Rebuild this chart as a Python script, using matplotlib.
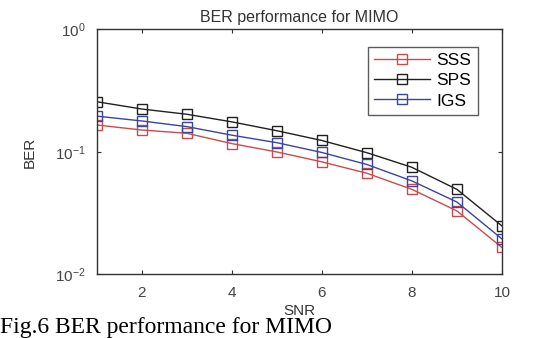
import matplotlib
matplotlib.use("Agg")
import matplotlib.pyplot as plt
from matplotlib.ticker import LogLocator, NullLocator

# values
snr = [1, 2, 3, 4, 5, 6, 7, 8, 9, 10]
ber_sss = [0.166, 0.151, 0.142, 0.117, 0.100, 0.083, 0.067, 0.0495, 0.033, 0.0166]
ber_sps = [0.257, 0.224, 0.203, 0.176, 0.149, 0.124, 0.0986, 0.0749, 0.0495, 0.0249]
ber_igs = [0.196, 0.179, 0.161, 0.137, 0.119, 0.099, 0.079, 0.058, 0.039, 0.0195]
x_ticks = [2, 4, 6, 8, 10]

plt.rcParams["font.family"] = ["Liberation Sans", "DejaVu Sans"]

fig = plt.figure(figsize=(5.45, 3.38), dpi=100)
ax = fig.add_axes([0.1774, 0.188, 0.7436, 0.725])

ax.plot(snr, ber_sss, color="#cc4a4a", marker="s", mfc="none", ms=7.5, lw=1, label="SSS")
ax.plot(snr, ber_sps, color="#202020", marker="s", mfc="none", ms=7.5, lw=1, label="SPS")
ax.plot(snr, ber_igs, color="#3a45a0", marker="s", mfc="none", ms=7.5, lw=1, label="IGS")

ax.set_yscale("log")
ax.set_xlim(1, 10)
ax.set_ylim(1e-2, 1)
ax.set_xticks(x_ticks)
ax.yaxis.set_major_locator(LogLocator(base=10, numticks=5))
ax.yaxis.set_minor_locator(NullLocator())
ax.tick_params(direction="in", top=True, right=True, length=3, labelsize=11,
               labelcolor="#444444", color="#333333")
ax.tick_params(axis="x", pad=8)
ax.tick_params(axis="y", pad=8)
for s in ax.spines.values():
    s.set_color("#333333")
    s.set_linewidth(1)

ax.set_title("BER performance for MIMO", fontsize=11.5, color="#333333", pad=5)
ax.set_xlabel("SNR", fontsize=11, color="#333333", labelpad=3)
ax.set_ylabel("BER", fontsize=11, color="#333333", labelpad=13)

leg = ax.legend(loc="upper right", fontsize=12.5, frameon=True, fancybox=False,
                handlelength=3.2, handletextpad=0.4, borderpad=0.35,
                labelspacing=0.3, borderaxespad=0,
                bbox_to_anchor=(0.94, 0.93))
leg.get_frame().set_edgecolor("#333333")
leg.get_frame().set_linewidth(1)

# caption of the source page under the plot
fig.text(0.0, 0.016, "Fig.6 BER performance for MIMO", fontsize=17,
         family=["Liberation Serif"], color="black", ha="left", va="baseline")

fig.savefig("out.png", dpi=100)
